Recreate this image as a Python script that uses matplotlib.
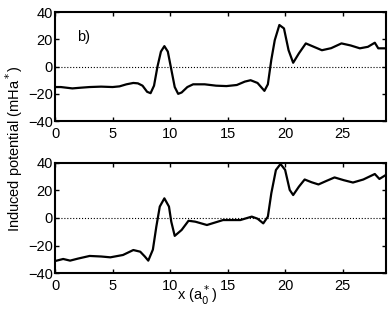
import matplotlib
matplotlib.use("Agg")
import matplotlib.pyplot as plt

plt.rcParams['font.family'] = ['Liberation Sans', 'DejaVu Sans']

# panel b (top)
x_top = [0, 0.5, 1.0, 1.5, 2.2, 3.0, 4.0, 5.0, 5.6, 6.2, 6.8, 7.2, 7.6, 8.0, 8.3, 8.6, 8.9,
         9.2, 9.5, 9.8, 10.1, 10.4, 10.7, 11.0, 11.5, 12.0, 13.0, 14.0, 14.9, 15.8, 16.5,
         17.0, 17.6, 18.2, 18.5, 18.8, 19.1, 19.5, 19.9, 20.3, 20.7, 21.2, 21.8, 22.5,
         23.2, 24.0, 24.9, 25.7, 26.5, 27.2, 27.8, 28.1, 28.8]
y_top = [-15, -15, -15.5, -16, -15.5, -15, -14.7, -15, -14.5, -13, -12, -12.3, -14, -18.5, -19.5,
         -14, 0, 11, 15, 11, -2, -15, -20, -19, -15, -13, -13, -14, -14.3, -13.5, -11,
         -10, -12, -17.8, -13, 5, 19.4, 30.5, 28, 12, 2.8, 9.7, 17, 14.5,
         12, 13.5, 17, 15.5, 13.4, 14.5, 17.5, 13.4, 13.4]

# bottom panel
x_bot = [0, 0.7, 1.3, 2.0, 3.0, 4.0, 4.8, 5.9, 6.8, 7.4, 7.8, 8.1, 8.5, 8.8, 9.1, 9.5, 9.9,
         10.1, 10.4, 11.0, 11.6, 12.2, 13.2, 14.6, 16.1, 17.1, 17.6, 18.1, 18.5, 18.8,
         19.2, 19.6, 20.0, 20.4, 20.7, 21.2, 21.7, 22.3, 22.9, 23.6, 24.3, 25.1, 25.9,
         26.8, 27.8, 28.2, 28.8]
y_bot = [-31.3, -29.8, -31, -29.5, -27.6, -28, -28.6, -26.9, -23.3, -24.5, -28, -31, -23, -6.3,
         8.3, 14.3, 8.3, -2.7, -13, -8.7, -2, -2.7, -5.1, -1.5, -1.5, 1, -0.5, -3.9, 1, 18,
         34.9, 39.3, 35, 20.4, 16.7, 22.8, 28, 26, 24.4, 27, 29.5, 27.5, 25.8,
         28, 32, 28.4, 31.5]

fig = plt.figure(figsize=(3.91, 3.09), dpi=100)
fig.set_facecolor("white")
ax1 = fig.add_axes([0.141, 0.608, 0.847, 0.353])
ax2 = fig.add_axes([0.141, 0.1165, 0.847, 0.356])

for ax, xs, ys in [(ax1, x_top, y_top), (ax2, x_bot, y_bot)]:
    ax.plot(xs, ys, color='black', lw=1.6)
    ax.axhline(0, color='black', ls=':', lw=0.8)
    ax.set_xlim(0, 28.8)
    ax.set_ylim(-40, 40)
    ax.set_xticks([0, 5, 10, 15, 20, 25])
    ax.set_yticks([-40, -20, 0, 20, 40])
    ax.set_yticklabels(['\u221240', '\u221220', '0', '20', '40'])
    ax.tick_params(direction='in', top=True, right=True, labelsize=10.5,
                   length=3, width=1)
    ax.tick_params(axis='x', pad=4)
    ax.tick_params(axis='y', pad=1.5)
    for s in ax.spines.values():
        s.set_linewidth(1.5)

ax1.text(2.5, 22, 'b)', fontsize=10.5, ha='center', va='center')
fig.text(0.035, 0.52, 'Induced potential (mHa$^*$)', rotation=90, ha='center', va='center', fontsize=10.5)
fig.text(0.505, 0.045, 'x (a$_0^*$)', ha='center', va='center', fontsize=10.5)

fig.savefig('out.png', dpi=100)
